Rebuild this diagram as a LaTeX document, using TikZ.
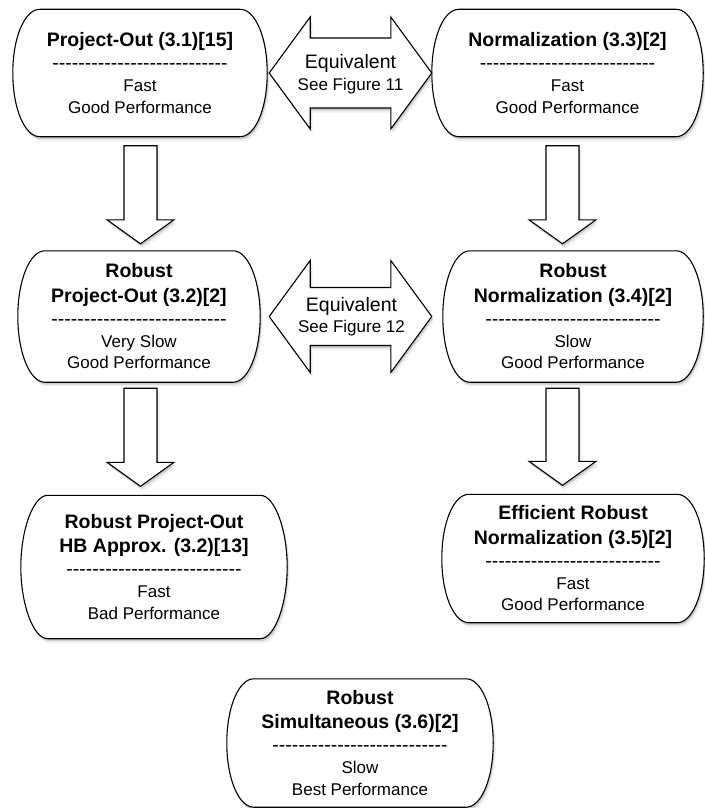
\documentclass[tikz,border=0pt]{standalone}
\usepackage{fontspec}
\setmainfont{Liberation Sans}
\usetikzlibrary{calc,backgrounds,shadows}

\newcommand{\titlefont}{\fontsize{19.5}{24}\selectfont\bfseries}
\newcommand{\bodyfont}{\fontsize{17}{21.5}\selectfont}
\newcommand{\dashrow}{{\fontsize{19.5}{24}\selectfont\foreach \i in {1,...,27}{-\kern0pt}}}

\tikzset{
  box/.style={inner sep=0pt, align=center, font=\bodyfont},
  outline/.style={draw, line width=1.1pt, fill=white,
    drop shadow={shadow xshift=2.5pt, shadow yshift=-4.5pt, opacity=0.12},
    drop shadow={shadow xshift=1.2pt, shadow yshift=-2.5pt, opacity=0.3}},
  fat/.style={outline, line join=miter},
  side/.style={out distance=15pt, in distance=36pt},
  eqlabel/.style={inner sep=0pt, align=center, font=\bodyfont}
}

\begin{document}
\begin{tikzpicture}[x=1pt, y=-1pt]
\useasboundingbox (0,0) rectangle (704,808);

% Boxes
\node[box, minimum width=254pt, minimum height=127pt] (po) at (140,73)
  {{\titlefont Project-Out (3.1)[15]}\\[1.5pt] \dashrow\\[0.5pt] Fast\\ Good Performance};
\node[box, minimum width=271pt, minimum height=127pt] (nm) at (567.5,73)
  {{\titlefont Normalization (3.3)[2]}\\[1.5pt] \dashrow\\[0.5pt] Fast\\ Good Performance};
\node[box, minimum width=242pt, minimum height=131pt] (rpo) at (139,316.5)
  {{\titlefont Robust}\\[3pt] {\titlefont Project-Out (3.2)[2]}\\[1.5pt] \dashrow\\[0.5pt] Very Slow\\ Good Performance};
\node[box, minimum width=260pt, minimum height=131pt] (rnm) at (573,316.5)
  {{\titlefont Robust}\\[3pt] {\titlefont Normalization (3.4)[2]}\\[1.5pt] \dashrow\\[0.5pt] Slow\\ Good Performance};
\node[box, minimum width=266pt, minimum height=143pt] (hb) at (154,567)
  {{\titlefont Robust Project-Out}\\[3pt] {\titlefont HB Approx. (3.2)[13]}\\[1.5pt] \dashrow\\[0.5pt] Fast\\ Bad Performance};
\node[box, minimum width=262pt, minimum height=128pt] (ern) at (573,558.5)
  {{\titlefont Efficient Robust}\\[3pt] {\titlefont Normalization (3.5)[2]}\\[1.5pt] \dashrow\\[0.5pt] Fast\\ Good Performance};
\node[box, minimum width=266pt, minimum height=128pt] (rs) at (360,743)
  {{\titlefont Robust}\\[3pt] {\titlefont Simultaneous (3.6)[2]}\\[1.5pt] \dashrow\\[0.5pt] Slow\\ Best Performance};

% Box outlines with bulging sides
\begin{scope}[on background layer]
  \foreach \n in {po,nm,rpo,rnm,hb,ern,rs}
    \draw[outline] ([xshift=27pt]\n.north west) -- ([xshift=-27pt]\n.north east)
      to[out=0,in=90,side] (\n.east) to[out=-90,in=0,side,out distance=36pt,in distance=15pt] ([xshift=-27pt]\n.south east)
      -- ([xshift=27pt]\n.south west) to[out=180,in=-90,side] (\n.west)
      to[out=90,in=180,out distance=36pt,in distance=15pt] ([xshift=27pt]\n.north west) -- cycle;
\end{scope}

% Downward block arrows
\foreach \a/\b/\dx/\gt/\gb in {po/rpo/0.5/9/7, nm/rnm/-5/9/7, rpo/hb/1.5/6/9, rnm/ern/-10.5/6/9}
  \draw[fat] let \p1=($(\a.south)+(\dx,\gt)$), \p2=($(\b.north)+(0,-\gb)$) in
    (\x1-16.5pt,\y1) -- (\x1+16.5pt,\y1) -- (\x1+16.5pt,\y2+24pt)
    -- (\x1+33.5pt,\y2+24pt) -- (\x1,\y2) -- (\x1-33.5pt,\y2+24pt)
    -- (\x1-16.5pt,\y2+24pt) -- cycle;

% Equivalence arrows
\foreach \a/\b/\dxa/\dxb/\sh in {po/nm/2/0/35, rpo/rnm/9/-11/29}
  \draw[fat] let \p1=([xshift=\dxa pt]\a.east), \p2=([xshift=\dxb pt]\b.west) in
    (\x1,\y1) -- (\x1+41pt,\y1+56pt) -- (\x1+41pt,\y1+\sh pt) -- (\x2-41pt,\y1+\sh pt)
    -- (\x2-41pt,\y1+56pt) -- (\x2,\y1) -- (\x2-41pt,\y1-56pt) -- (\x2-41pt,\y1-\sh pt)
    -- (\x1+41pt,\y1-\sh pt) -- (\x1+41pt,\y1-56pt) -- cycle;

\node[eqlabel] (eq1) at ($(po.east)!0.5!(nm.west)+(1,1)$)
  {{\fontsize{19.5}{24}\selectfont Equivalent}\\ See Figure 11};
\node[eqlabel] (eq2) at ($(rpo.east)!0.5!(rnm.west)+(0,0)$)
  {{\fontsize{19.5}{24}\selectfont Equivalent}\\ See Figure 12};

\end{tikzpicture}
\end{document}
